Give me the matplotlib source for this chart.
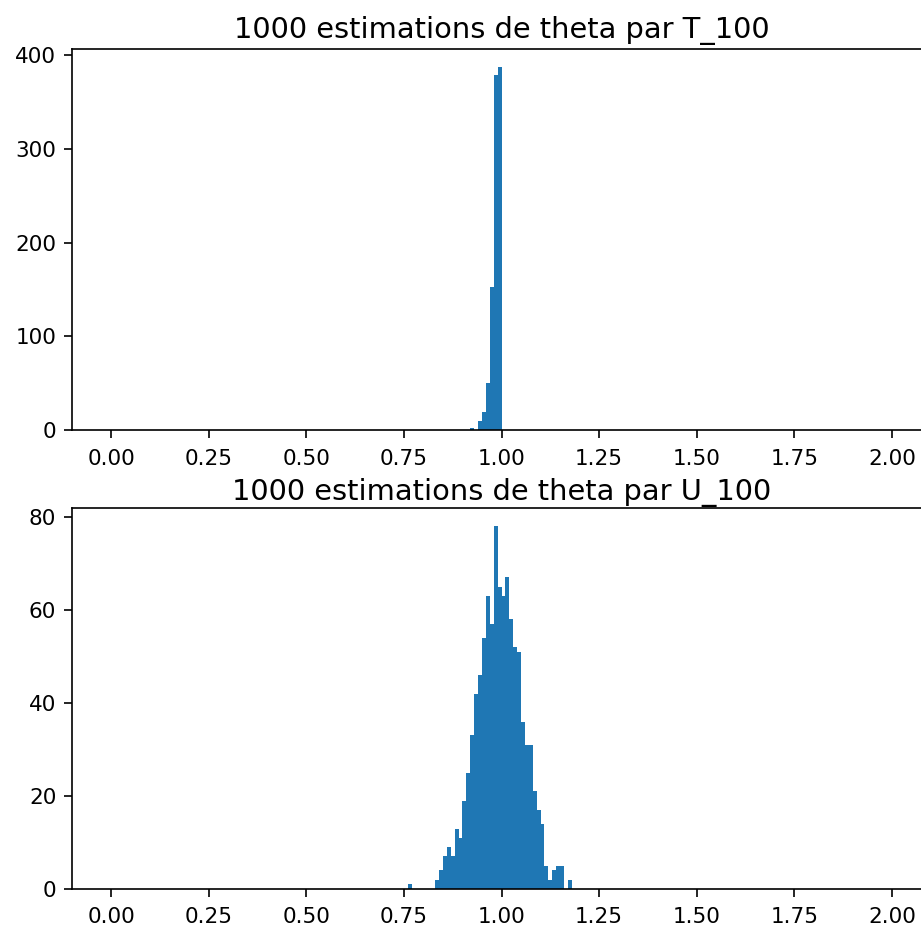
import numpy as np
import matplotlib
matplotlib.use("Agg")
import matplotlib.pyplot as plt
from matplotlib.ticker import MultipleLocator

# ---- data ----
bin_edges = np.linspace(0, 2, 201)          # 200 bins of width 0.01 over [0, 2]

t_title = "1000 estimations de theta par T_100"
t_first_bin = 0.92                          # left edge of first listed bin
t_counts = [2, 0, 10, 19, 50, 153, 379, 387]
t_ytick_step = 100

u_title = "1000 estimations de theta par U_100"
u_first_bin = 0.76
u_counts = [1, 0, 0, 0, 0, 0, 0,
            2, 4, 7, 9, 7, 13, 11, 19, 25, 33, 42, 46, 54, 63, 57, 78, 65,
            63, 67, 58, 52, 51, 36, 31, 31, 21, 17, 14, 5, 2, 4, 5, 5,
            0, 2]
u_ytick_step = 20


def full_weights(first, counts):
    w = np.zeros(len(bin_edges) - 1)
    i0 = int(round(first / (bin_edges[1] - bin_edges[0])))
    w[i0:i0 + len(counts)] = counts
    return w


centers = (bin_edges[:-1] + bin_edges[1:]) / 2

plt.rcParams.update({
    "font.family": ["DejaVu Sans"],
    "xtick.labelsize": 15.5,
    "ytick.labelsize": 15.5,
    "axes.titlesize": 20.8,
    "axes.linewidth": 1.2,
    "xtick.major.size": 5.8,
    "ytick.major.size": 5.8,
    "xtick.major.width": 1.2,
    "ytick.major.width": 1.2,
    "xtick.major.pad": 7.5,
    "ytick.major.pad": 5.5,
})

fig = plt.figure(figsize=(9.21, 9.30), dpi=100)
ax1 = fig.add_axes([0.0782, 0.5376, 0.9327, 0.4094])
ax2 = fig.add_axes([0.0782, 0.0441, 0.9327, 0.4097])

ax1.hist(centers, bins=bin_edges, weights=full_weights(t_first_bin, t_counts),
         color="#1f77b4")
ax1.set_title(t_title, pad=8)
ax1.yaxis.set_major_locator(MultipleLocator(t_ytick_step))

ax2.hist(centers, bins=bin_edges, weights=full_weights(u_first_bin, u_counts),
         color="#1f77b4")
ax2.set_title(u_title, pad=6)
ax2.yaxis.set_major_locator(MultipleLocator(u_ytick_step))

fig.savefig("out.png", dpi=100)
